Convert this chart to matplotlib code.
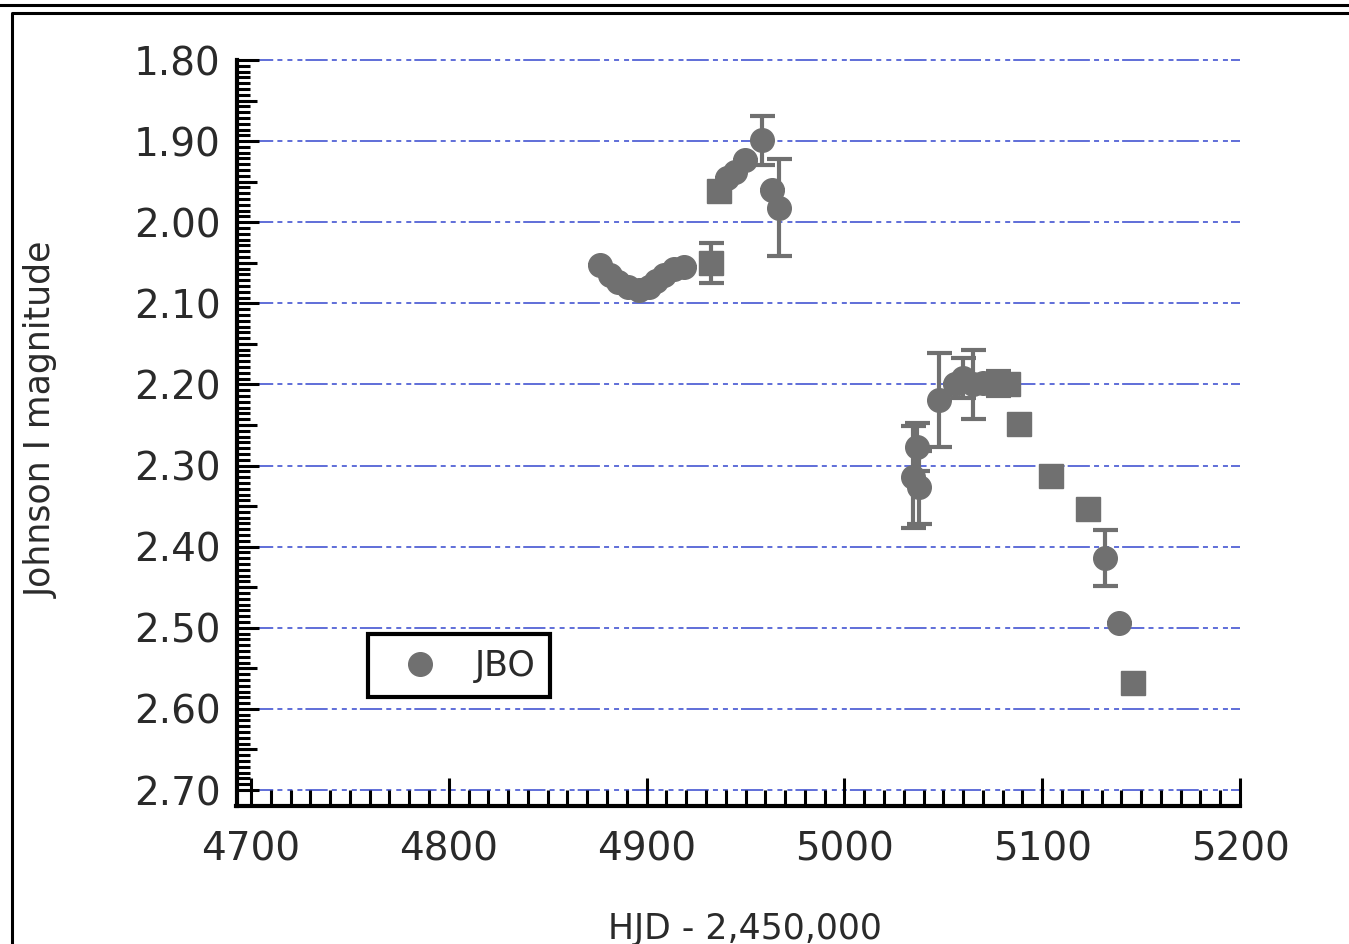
import matplotlib
matplotlib.use("Agg")
import matplotlib.pyplot as plt
from matplotlib.ticker import MultipleLocator, AutoMinorLocator, FormatStrFormatter
from matplotlib.lines import Line2D

# JBO photometry, circles (HJD-2450000, mag, err)
circ_hjd = [4876.5, 4881.5, 4885.5, 4890.5, 4896, 4901, 4905, 4909, 4914, 4919,
            4940.5, 4944.5, 4949.5, 4958.5, 4963.5, 4967,
            5034.5, 5036.5, 5037.5, 5048, 5056, 5060, 5065, 5070, 5132, 5139]
circ_mag = [2.053, 2.065, 2.074, 2.080, 2.083, 2.080, 2.073, 2.065, 2.058, 2.055,
            1.945, 1.938, 1.923, 1.899, 1.960, 1.982,
            2.314, 2.277, 2.327, 2.219, 2.200, 2.192, 2.200, 2.198, 2.414, 2.494]
circ_err = [0, 0, 0, 0, 0, 0, 0, 0, 0, 0,
            0, 0, 0, 0.03, 0, 0.06,
            0.063, 0.03, 0.045, 0.058, 0, 0.025, 0.042, 0, 0.035, 0]

# squares
sq_hjd = [4932.5, 4936.5, 5077.5, 5082.5, 5088.5, 5104.5, 5123, 5146]
sq_mag = [2.050, 1.961, 2.199, 2.199, 2.249, 2.313, 2.354, 2.568]
sq_err = [0.025, 0, 0.015, 0, 0, 0, 0.012, 0]

gray = '#707070'
txt = '#2a2a2a'
plt.rcParams['lines.scale_dashes'] = False
plt.rcParams['font.family'] = ['DejaVu Sans']

fig = plt.figure(figsize=(13.49, 9.44), dpi=100)
ax = fig.add_axes([251/1349, 1-790/944, 989/1349, 730/944])

ax.set_xlim(4700, 5200)
ax.set_ylim(2.70, 1.80)

# grid
for y in [1.8, 1.9, 2.0, 2.1, 2.2, 2.3, 2.4, 2.5, 2.6, 2.7]:
	ax.axhline(y, color='#5f6ed8', lw=1.4, zorder=0, clip_on=False,
			   linestyle=(0, (16, 3, 3.6, 3.6, 3.6, 3.6, 3.6, 2.2)))

ax.errorbar(circ_hjd, circ_mag, yerr=circ_err, fmt='none', ecolor=gray,
			elinewidth=3, capsize=9, capthick=3, zorder=2)
ax.errorbar(sq_hjd, sq_mag, yerr=sq_err, fmt='none', ecolor=gray,
			elinewidth=3, capsize=9, capthick=3, zorder=2)
ax.plot(circ_hjd, circ_mag, 'o', color=gray, ms=17, mec=gray, label='JBO', zorder=3)
ax.plot(sq_hjd, sq_mag, 's', color=gray, ms=17, mec=gray, zorder=3)

for s in ['top', 'right']:
	ax.spines[s].set_visible(False)
ax.spines['left'].set_position(('outward', 10))
ax.spines['bottom'].set_position(('outward', 11.5))
ax.spines['left'].set_bounds(1.80, 2.72)
ax.spines['bottom'].set_bounds(4692.5, 5200)
for s in ['left', 'bottom']:
	ax.spines[s].set_linewidth(3)
	ax.spines[s].set_capstyle('projecting')

ax.xaxis.set_major_locator(MultipleLocator(100))
ax.xaxis.set_minor_locator(MultipleLocator(10))
ax.yaxis.set_major_locator(MultipleLocator(0.1))
ax.yaxis.set_minor_locator(AutoMinorLocator(14))
ax.yaxis.set_major_formatter(FormatStrFormatter('%.2f'))
ax.tick_params(which='both', direction='in', width=2.2, colors='black')
ax.tick_params(axis='x', which='major', length=20, pad=18, labelsize=28, labelcolor=txt)
ax.tick_params(axis='x', which='minor', length=11.5)
ax.tick_params(axis='y', which='major', length=16, pad=12, labelsize=28, labelcolor=txt)
ax.tick_params(axis='y', which='minor', length=9.5)

sec = ax.secondary_yaxis(-14/989)
sec.set_yticks([1.85, 1.95, 2.05, 2.15, 2.25, 2.35, 2.45, 2.55, 2.65])
sec.tick_params(direction='in', length=14.5, width=2.2, labelleft=False)
sec.spines['left'].set_visible(False)

ax.set_xlabel('HJD - 2,450,000', fontsize=25, color=txt)
ax.set_ylabel('Johnson I magnitude', fontsize=25, color=txt)
ax.xaxis.set_label_coords(0.4995, -0.167)
ax.yaxis.set_label_coords(-0.1946, 0.507)

leg = ax.legend(loc='lower left', bbox_to_anchor=(0.118, 0.127), borderaxespad=0,
				fontsize=25, numpoints=1, fancybox=False, framealpha=1,
				edgecolor='black', borderpad=0.42, handlelength=2.15,
				handletextpad=0.52)
leg.get_frame().set_linewidth(3)
for t in leg.get_texts():
	t.set_color(txt)

# outer frame of the page
fig.add_artist(Line2D([0, 1], [1-5/944, 1-5/944], color='black', lw=2.2))
fig.add_artist(Line2D([12/1349, 12/1349, 1], [0, 1-13/944, 1-13/944], color='black', lw=2.2))

fig.savefig('out.png', dpi=100)
